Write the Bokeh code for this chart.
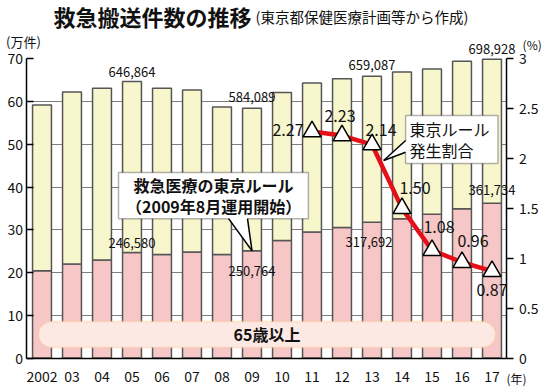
from bokeh.plotting import figure
from bokeh.models import Range1d, LinearAxis, FixedTicker, Label, BoxAnnotation
from bokeh.embed import file_html
from bokeh.resources import INLINE

# ---- data ----
years = ["2002", "03", "04", "05", "06", "07", "08", "09",
         "10", "11", "12", "13", "14", "15", "16", "17"]
# total emergency transports (10,000 cases)
total = [59.2, 62.2, 63.1, 64.6864, 63.1, 62.7, 58.7, 58.4089,
         62.1, 64.3, 65.3, 65.9087, 66.9, 67.6, 69.4, 69.8928]
# aged 65 and over (10,000 cases)
senior = [20.4, 22.0, 22.9, 24.6580, 24.2, 24.8, 24.2, 25.0764,
          27.5, 29.5, 30.5, 31.7692, 32.6, 33.6, 34.9, 36.1734]
# Tokyo-rule occurrence rate (%), 2011-2017
rate_years = ["11", "12", "13", "14", "15", "16", "17"]
rate = [2.27, 2.23, 2.14, 1.50, 1.08, 0.96, 0.87]
labeled_years = ["05", "09", "13", "17"]
left_ticks = [0, 10, 20, 30, 40, 50, 60, 70]
right_ticks = [0, 0.5, 1.0, 1.5, 2.0, 2.5, 3.0]

JP = "Noto Sans CJK JP"
PINK = "#f7c6c7"
YELLOW = "#f8f6cc"
RED = "#e60f19"
INK = "#111111"

xs = list(range(len(years)))
YMAX, PMAX = 70, 3
X0, X1 = -0.5, len(years) - 0.5
# the frame covers the whole canvas; axes are pinned inside it
XR = (-1.3833, 16.8167)
YR = (-8.07, 83.626)

p = figure(width=546, height=392, output_backend="svg", toolbar_location=None, title=None,
           x_range=Range1d(*XR), y_range=Range1d(*YR), min_border=0)
p.outline_line_color = None
p.background_fill_color = "white"
p.xgrid.grid_line_color = None
p.ygrid.ticker = FixedTicker(ticks=left_ticks[1:-1])
p.ygrid.grid_line_color = "#808080"
p.ygrid.grid_line_width = 1
try:
    p.ygrid.cross_bounds = (X0, X1)
    grid_ok = True
except Exception:
    grid_ok = False
    p.ygrid.grid_line_color = None

# axes
for ax in (p.xaxis[0], p.yaxis[0]):
    ax.axis_line_color = "black"
    ax.axis_line_width = 1.5
    ax.major_label_text_font = JP
    ax.major_label_text_font_size = "14px"
    ax.major_label_text_color = INK
    ax.minor_tick_line_color = None
p.xaxis.fixed_location = 0
p.xaxis.bounds = (X0, X1)
p.xaxis.ticker = FixedTicker(ticks=xs)
p.xaxis.major_label_overrides = {i: y for i, y in zip(xs, years)}
p.xaxis.major_tick_line_color = None
p.xaxis.major_label_standoff = 7
p.yaxis.fixed_location = X0
p.yaxis.ticker = FixedTicker(ticks=left_ticks)
p.yaxis.bounds = (0, YMAX)
p.yaxis.major_tick_in = 7
p.yaxis.major_tick_out = 0
p.yaxis.major_tick_line_color = "black"
p.yaxis.major_tick_line_width = 1.5
p.yaxis.major_label_standoff = 4

if not grid_ok:
    gax = LinearAxis(fixed_location=X0, ticker=FixedTicker(ticks=left_ticks[1:-1]),
                     bounds=(0, YMAX), level="underlay")
    gax.axis_line_color = None
    gax.major_label_text_font_size = "0px"
    gax.major_tick_in = 480
    gax.major_tick_out = 0
    gax.major_tick_line_color = "#808080"
    gax.minor_tick_line_color = None
    p.add_layout(gax, "left")

p.extra_y_ranges = {"pct": Range1d(YR[0] * PMAX / YMAX, YR[1] * PMAX / YMAX)}
rax = LinearAxis(y_range_name="pct", ticker=FixedTicker(ticks=right_ticks), bounds=(0, PMAX),
                 fixed_location=X1)
rax.major_label_overrides = {0: "0"}
rax.axis_line_color = "black"
rax.axis_line_width = 1.5
rax.major_tick_in = 0
rax.major_tick_out = 7
rax.major_tick_line_width = 1.5
rax.minor_tick_line_color = None
rax.major_label_standoff = 5
rax.major_label_text_font = JP
rax.major_label_text_font_size = "14px"
rax.major_label_text_color = INK
p.add_layout(rax, "right")

# bars
p.vbar(x=xs, bottom=0, top=senior, width=0.63, fill_color=PINK,
       line_color="#555555", line_width=1.5)
p.vbar(x=xs, bottom=senior, top=total, width=0.63, fill_color=YELLOW,
       line_color="#555555", line_width=1.5)

# 65+ rounded band
p.add_layout(BoxAnnotation(left=-0.12, right=15.12, bottom=2.46, top=8.54,
                           fill_color="#fde9e4", fill_alpha=1, line_color="#f6c381",
                           line_width=2, border_radius=13, level="annotation"))
p.add_layout(Label(x=7.5, y=5.5, text="65歳以上", text_font=JP, text_font_size="16px",
                   text_font_style="bold", text_align="center", text_baseline="middle",
                   text_color=INK))

# rate line
rx = [years.index(y) for y in rate_years]
p.line(rx, rate, y_range_name="pct", line_color=RED, line_width=4.5)
p.scatter(rx, rate, y_range_name="pct", marker="triangle", size=18,
          fill_color="white", line_color="black", line_width=1.5)

# rate labels (offsets in px: dx right, dy up)
rate_off = [(-24, 2), (-2, 20), (9, 15), (13, 20), (7, 23), (11, 21), (0, -19)]
for x, v, (dx, dy) in zip(rx, rate, rate_off):
    p.add_layout(Label(x=x, y=v, y_range_name="pct", x_offset=dx, y_offset=dy,
                       text=f"{v:.2f}", text_font=JP, text_font_size="16px",
                       text_align="center", text_baseline="middle", text_color=INK))

# value labels on bars
tot_off = {"05": (0, 9), "09": (0, 11), "13": (0, 11), "17": (0, 10)}
sen_off = {"05": (0, 10), "09": (0, -20), "13": (-3, -20), "17": (0, 13)}
for y in labeled_years:
    i = years.index(y)
    dx, dy = tot_off[y]
    p.add_layout(Label(x=i, y=total[i], x_offset=dx, y_offset=dy,
                       text=f"{round(total[i] * 10000):,}", text_font=JP,
                       text_font_size="13px", text_align="center", text_baseline="middle",
                       text_color=INK))
    dx, dy = sen_off[y]
    p.add_layout(Label(x=i, y=senior[i], x_offset=dx, y_offset=dy,
                       text=f"{round(senior[i] * 10000):,}", text_font=JP,
                       text_font_size="13px", text_align="center", text_baseline="middle",
                       text_color=INK))

# callout 1: Tokyo rule start
p.add_layout(BoxAnnotation(left=2.55, right=8.88, bottom=32.6, top=43.4, fill_color="white",
                           fill_alpha=1, line_color="black", line_width=1.5, level="annotation"))
p.add_layout(Label(x=5.72, y=38.0, text="救急医療の東京ルール\n（2009年8月運用開始）",
                   text_font=JP, text_font_size="16px", text_font_style="bold",
                   text_align="center", text_baseline="middle", text_color=INK,
                   text_line_height=0.9))
i09 = years.index("09")
p.patch([6.22, 6.85, i09], [32.9, 32.9, senior[i09]], fill_color="white", line_color=None,
        level="overlay")
p.multi_line([[6.22, i09], [6.85, i09]], [[32.6, senior[i09]], [32.6, senior[i09]]],
             line_color="black", line_width=1.5, level="overlay")

# callout 2: occurrence rate
p.add_layout(BoxAnnotation(left=12.12, right=15.2, bottom=45.5, top=56.7, fill_color="white",
                           fill_alpha=1, line_color="black", line_width=1.5, level="annotation"))
p.add_layout(Label(x=12.25, y=51.1, text="東京ルール\n発生割合", text_font=JP,
                   text_font_size="16px", text_align="left", text_baseline="middle",
                   text_color=INK, text_line_height=0.9))
p.patch([12.16, 12.16, 11.39], [50.88, 48.14, 46.2], fill_color="white", line_color=None,
        level="overlay")
p.multi_line([[12.12, 11.39], [12.12, 11.39]], [[50.88, 46.2], [48.14, 46.2]],
             line_color="black", line_width=1.5, level="overlay")

# title and units
p.add_layout(Label(x=0.383, y=79.9, text="救急搬送件数の推移", text_font=JP,
                   text_font_size="22px", text_font_style="bold", text_baseline="middle",
                   text_color=INK))
p.add_layout(Label(x=7.117, y=79.9, text="(東京都保健医療計画等から作成)", text_font=JP,
                   text_font_size="14.5px", text_baseline="middle", text_color=INK))
p.add_layout(Label(x=-1.2, y=74.0, text="(万件)", text_font=JP, text_font_size="13px",
                   text_baseline="middle", text_color=INK))
p.add_layout(Label(x=16.02, y=73.33, text="(%)", text_font=JP, text_font_size="12px",
                   text_baseline="middle", text_color=INK))
p.add_layout(Label(x=15.48, y=-4.8, text="(年)", text_font=JP, text_font_size="12px",
                   text_baseline="middle", text_color=INK))

open("out.html", "w").write(file_html(p, INLINE))
